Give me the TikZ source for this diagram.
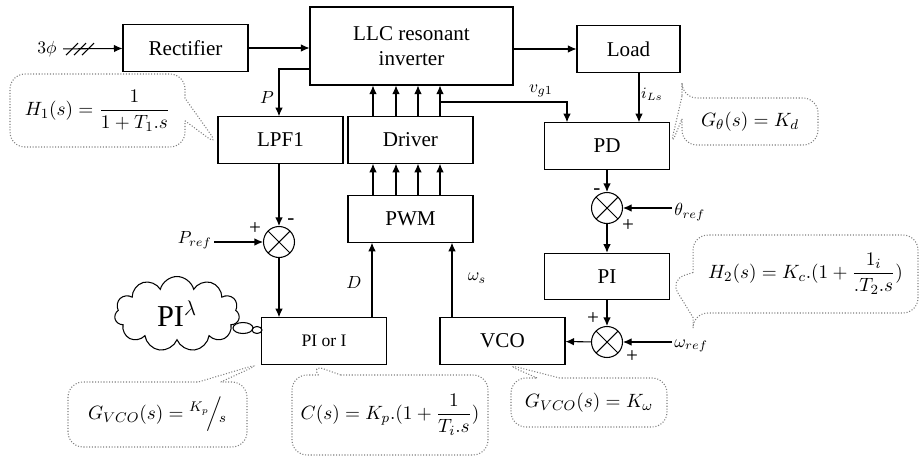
\documentclass[tikz,border=0pt]{standalone}
\usepackage{amsmath}
\usepackage{amssymb}
\usepackage{fontspec}
\setmainfont{Liberation Serif}
\usetikzlibrary{arrows.meta,shapes.callouts,shapes.symbols}

\tikzset{
  block/.style={draw, line width=0.6pt, minimum width=2.5cm, minimum height=0.93cm,
    font=\large},
  sumnode/.style={draw, circle, line width=0.6pt, minimum size=0.62cm, inner sep=0pt,
    path picture={\draw (path picture bounding box.south west) -- (path picture bounding box.north east)
      (path picture bounding box.north west) -- (path picture bounding box.south east);}},
  note/.style={rectangle callout, draw=gray, densely dotted, rounded corners=0.3cm,
    callout pointer width=0.45cm, font=\fontsize{11}{13}\selectfont},
  sign/.style={inner sep=0pt, font=\large}
}

\begin{document}
\begin{tikzpicture}[x=0.02cm, y=-0.02cm, line width=0.6pt, >={Latex[length=1.7mm,width=1.5mm]}]
    \useasboundingbox (0,0) rectangle (920,457);

    \node[block] (rect) at (185.5,48) {Rectifier};
    \node[block, minimum width=4.06cm, minimum height=1.56cm, align=center] (llc) at (411.5,46) {LLC resonant\\inverter};
    \node[block, minimum width=2.06cm] (load) at (628.5,49) {Load};
    \node[block] (lpf) at (280.5,140) {LPF1};
    \node[block] (drv) at (410.5,140) {Driver};
    \node[block] (pwm) at (410.5,219) {PWM};
    \node[block] (pd) at (607,146) {PD};
    \node[block] (pi) at (607,276.5) {PI};
    \node[block] (vco) at (502.5,341) {VCO};
    \node[block, font=\normalsize] (pii) at (324,341) {PI or I};

    \node[sumnode] (suml) at (279,242) {};
    \node[sumnode] (sumr) at (607,208) {};
    \node[sumnode] (sumv) at (607,342) {};

    % input and power path
    \node (in3) at (47,49) {$3\phi$};
    \draw[->] (in3) -- (rect);
    \foreach \x in {72,80,88} \draw (\x-6,55) -- (\x+6,43);
    \draw[->] (rect) -- (llc.west |- rect);
    \draw[->] (llc.east |- load) -- (load);
    \draw[->] (llc.west |- 0,69) -| (lpf.north -| suml);
    \foreach \x in {373,396,418,440} {
      \draw[->] (drv.north -| \x,0) -- (llc.south -| \x,0);
      \draw[->] (pwm.north -| \x,0) -- (drv.south -| \x,0);
    }
    \coordinate (vg) at (440,102);
    \draw[->] (vg) -| (pd.north -| 567,0);
    \draw[->] (load.south -| 639,0) -- (pd.north -| 639,0);

    % loops
    \draw[->] (pd) -- (sumr);
    \draw[->] (sumr) -- (pi);
    \draw[->] (pi) -- (sumv);
    \draw[->] (sumv) -- (vco);
    \draw[->] (vco.north -| 452,0) -- (pwm.south -| 452,0);
    \draw[->] (pii.north -| 372,0) -- (pwm.south -| 372,0);
    \draw[->] (lpf.south -| suml) -- (suml);
    \draw[->] (suml) -- (pii.north -| suml);

    \node[anchor=west, inner sep=1pt] (thref) at (672,212) {$\theta_{ref}$};
    \draw[->] (thref.west |- sumr) -- (sumr);
    \node[anchor=west, inner sep=1pt] (wref) at (672,346) {$\omega_{ref}$};
    \draw[->] (wref.west |- sumv) -- (sumv);
    \node[anchor=east, inner sep=1pt] (pref) at (214,240) {$P_{ref}$};
    \draw[->] (pref.east |- suml) -- (suml);

    \node (lblP) at (267,97) {$P$};
    \node (lblD) at (354,282) {$D$};
    \node (lblws) at (477,278) {$\omega_s$};
    \node (lblvg) at (541,91) {$v_{g1}$};
    \node[font=\small] (lbliL) at (652,94) {$i_{Ls}$};

    \node[sign] (sgl1) at (255,229) {+};
    \node[sign] (sgl2) at (291,222) {-};
    \node[sign] (sgr1) at (597,192) {-};
    \node[sign] (sgr2) at (628,226) {+};
    \node[sign] (sgv1) at (593,319) {+};
    \node[sign] (sgv2) at (632,357) {+};

    % fractional order note
    \node[cloud, draw, cloud puffs=11, cloud ignores aspect, minimum width=2.5cm, minimum height=1.5cm,
      font=\LARGE] (cloudPI) at (177,314) {PI$^{\lambda}$};
    \draw (243,328) ellipse [x radius=0.2cm, y radius=0.11cm];
    \draw (257,330) ellipse [x radius=0.1cm, y radius=0.07cm];

    % transfer functions
    \node[note, minimum width=3.5cm, minimum height=1.46cm, callout absolute pointer={(219,146)}] (cH1) at (97.5,110.5)
      {$\displaystyle H_1(s)=\frac{1}{1+T_1.s}$};
    \node[note, minimum width=2.72cm, minimum height=0.94cm, callout absolute pointer={(670,148)}] (cGt) at (750,121.5)
      {$G_\theta(s)=K_d$};
    \node[note, minimum width=4.5cm, minimum height=1.56cm, callout pointer width=0.9cm,
      callout absolute pointer={(670,280)}] (cH2) at (805.5,274)
      {$\displaystyle H_2(s)=K_c.(1+\frac{1_i}{.T_2.s})$};
    \node[note, minimum width=3.58cm, minimum height=1.3cm, callout absolute pointer={(262,363)}] (cGv1) at (157.5,414.5)
      {$\displaystyle G_{VCO}(s)={}^{K_p}\!\Big/\!{}_{s}$};
    \node[note, minimum width=3.92cm, minimum height=1.6cm, callout absolute pointer={(310,364)}] (cC) at (390,415)
      {$\displaystyle C(s)=K_p.(1+\frac{1}{T_i.s})$};
    \node[note, minimum width=3.12cm, minimum height=0.98cm, callout absolute pointer={(505,364)}] (cGv2) at (589,402.5)
      {$G_{VCO}(s)=K_\omega$};
\end{tikzpicture}
\end{document}
